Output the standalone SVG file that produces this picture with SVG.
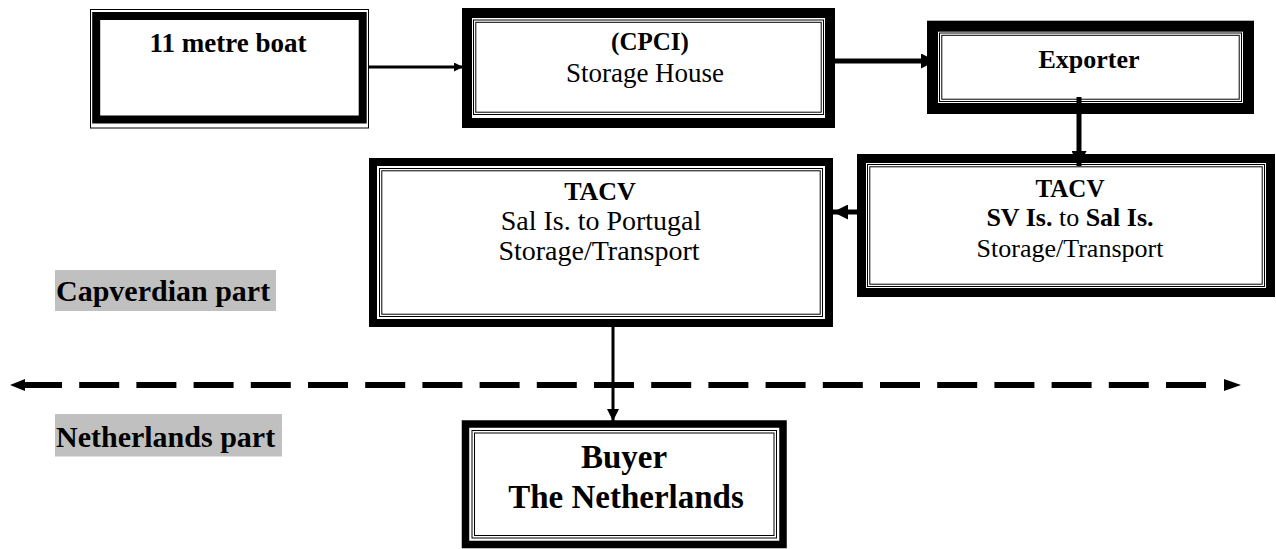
<svg xmlns="http://www.w3.org/2000/svg" width="1276" height="549" viewBox="0 0 1276 549">
<defs>
<style>
.bg{fill:#ffffff}
.thick{fill:none;stroke:#000}
.thin{fill:none;stroke:#000;stroke-width:1}
.t{font-family:"Liberation Serif","Times New Roman",serif;fill:#000;text-anchor:middle}
.b{font-weight:bold}
.lbl{font-family:"Liberation Serif","Times New Roman",serif;font-weight:bold;font-size:30px;fill:#000}
.lblbg{fill:#c0c0c0}
.conn{stroke:#000;fill:none}
.head{fill:#000}
</style>
<marker id="ah" viewBox="0 0 10 10" refX="10" refY="5" markerWidth="4" markerHeight="4" markerUnits="strokeWidth" orient="auto">
<path d="M0,0 L10,5 L0,10 z" fill="#000"/>
</marker>
<marker id="ahs" viewBox="0 0 10 10" refX="10" refY="5" markerWidth="3" markerHeight="3" markerUnits="strokeWidth" orient="auto">
<path d="M0,0 L10,5 L0,10 z" fill="#000"/>
</marker>
</defs>
<rect class="bg" x="0" y="0" width="1276" height="549"/>

<g id="node-boat">
<rect class="thin" x="90.5" y="9.5" width="278" height="118.5"/>
<rect class="thick" x="96.2" y="16" width="266.5" height="103.5" stroke-width="8"/>
<text class="t b" x="228" y="52" font-size="27">11 metre boat</text>
</g>

<g id="node-cpci">
<rect class="thick" x="467" y="13" width="363" height="110" stroke-width="10"/>
<rect class="thin" x="473.5" y="20" width="350" height="94.5"/>
<rect class="thin" x="475.8" y="22.3" width="345.4" height="89.9"/>
<text class="t b" x="650" y="50" font-size="25">(CPCI)</text>
<text class="t" x="645" y="82" font-size="27">Storage House</text>
</g>

<g id="node-exporter">
<rect class="thick" x="932.5" y="26.2" width="316" height="82.3" stroke-width="11"/>
<rect class="thin" x="939.5" y="33" width="302" height="68.5"/>
<rect class="thin" x="941.8" y="35.3" width="297.4" height="63.9"/>
<text class="t b" x="1089" y="68" font-size="26">Exporter</text>
</g>

<g id="node-tacv-sv">
<rect class="thick" x="861.5" y="158.5" width="409" height="134" stroke-width="9"/>
<rect class="thin" x="867.5" y="164.5" width="397" height="122"/>
<rect class="thin" x="869.8" y="166.8" width="392.4" height="117.4"/>
<text class="t b" x="1070" y="197" font-size="25">TACV</text>
<text class="t" x="1070" y="226" font-size="26"><tspan font-weight="bold">SV Is.</tspan> to <tspan font-weight="bold">Sal Is.</tspan></text>
<text class="t" x="1070" y="257" font-size="26">Storage/Transport</text>
</g>

<g id="node-tacv-sal">
<rect class="thick" x="373" y="162" width="456" height="161" stroke-width="8"/>
<rect class="thin" x="379.5" y="168.5" width="443" height="148"/>
<rect class="thin" x="381.8" y="170.8" width="438.4" height="143.4"/>
<text class="t b" x="600" y="200" font-size="26">TACV</text>
<text class="t" x="601" y="230" font-size="28">Sal Is. to Portugal</text>
<text class="t" x="599" y="260" font-size="28">Storage/Transport</text>
</g>

<g id="node-buyer">
<rect class="thick" x="465.5" y="424" width="317.5" height="120.5" stroke-width="7.5"/>
<rect class="thin" x="472" y="430.5" width="304.5" height="107.5"/>
<rect class="thin" x="474.5" y="433" width="299.5" height="102.5"/>
<text class="t b" x="624" y="468" font-size="33">Buyer</text>
<text class="t b" x="626" y="508" font-size="33">The Netherlands</text>
</g>

<g id="label-capverdian">
<rect class="lblbg" x="55" y="270" width="221" height="41"/>
<text class="lbl" x="56" y="301">Capverdian part</text>
</g>

<g id="label-netherlands">
<rect class="lblbg" x="55" y="414" width="227" height="42.5"/>
<text class="lbl" x="56" y="446.5">Netherlands part</text>
</g>

<g id="connectors">
<line class="conn" x1="369" y1="67" x2="463" y2="67" stroke-width="3" marker-end="url(#ahs)"/>
<line class="conn" x1="835" y1="61" x2="936" y2="61" stroke-width="5" marker-end="url(#ahs)"/>
<line class="conn" x1="1079" y1="97" x2="1079" y2="166" stroke-width="5" marker-end="url(#ahs)"/>
<line class="conn" x1="866" y1="212" x2="833" y2="212" stroke-width="5" marker-end="url(#ahs)"/>
<line class="conn" x1="613" y1="327" x2="613" y2="421" stroke-width="3" marker-end="url(#ah)"/>
<line class="conn" x1="22" y1="385" x2="1207" y2="385" stroke-width="6" stroke-dasharray="40 17.2"/>
<polygon class="head" points="10,385 25,379 25,391"/>
<polygon class="head" points="1241,385 1224,379 1224,391"/>
</g>
</svg>
